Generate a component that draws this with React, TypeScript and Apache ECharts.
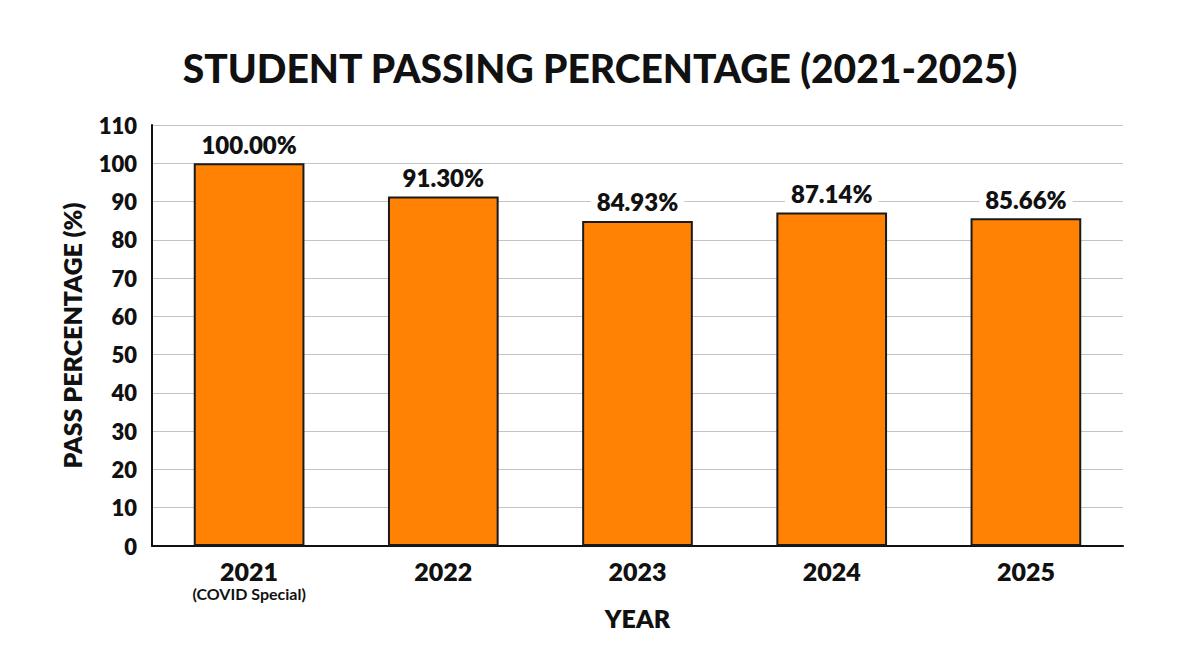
import React, { useEffect, useRef } from "react";
import * as echarts from "echarts";

const years = ["2021", "2022", "2023", "2024", "2025"];
const subLabels = ["(COVID Special)", "", "", "", ""];
const passRates = [100.0, 91.3, 84.93, 87.14, 85.66];
const yTicks = { min: 0, max: 110, interval: 10 };

const FONT = "Lato, 'Noto Sans', sans-serif";

export default function App() {
  const ref = useRef<HTMLDivElement>(null);
  useEffect(() => {
    if (!ref.current) return;
    const chart = echarts.init(ref.current, undefined, { renderer: "svg" });
    chart.setOption({
      animation: false,
      backgroundColor: "#ffffff",
      title: {
        text: "STUDENT PASSING PERCENTAGE (2021-2025)",
        left: "center",
        top: 35,
        textStyle: { fontFamily: FONT, fontWeight: 900, fontSize: 39, color: "#111" },
      },
      grid: { left: 144, right: 69, top: 117, bottom: 101, containLabel: false },
      xAxis: {
        type: "category",
        data: years,
        name: "YEAR",
        nameLocation: "middle",
        nameGap: 57,
        nameTextStyle: { fontFamily: FONT, fontWeight: 800, fontSize: 25, color: "#111" },
        axisLine: { lineStyle: { color: "#111", width: 2 } },
        axisTick: { show: false },
        axisLabel: {
          margin: 11,
          formatter: (v: string, i: number) =>
            subLabels[i] ? `{y|${v}}\n{s|${subLabels[i]}}` : `{y|${v}}\n{s| }`,
          rich: {
            y: { fontFamily: FONT, fontWeight: 800, fontSize: 25, color: "#111", lineHeight: 27 },
            s: { fontFamily: FONT, fontWeight: 700, fontSize: 16, color: "#111", lineHeight: 18 },
          },
        },
      },
      yAxis: {
        type: "value",
        min: yTicks.min,
        max: yTicks.max,
        interval: yTicks.interval,
        name: "PASS PERCENTAGE (%)",
        nameLocation: "middle",
        nameGap: 68,
        nameRotate: 90,
        nameTextStyle: { fontFamily: FONT, fontWeight: 800, fontSize: 25, color: "#111" },
        axisLine: { show: true, lineStyle: { color: "#111", width: 2 } },
        axisTick: { show: false },
        axisLabel: {
          margin: 15,
          fontFamily: FONT,
          fontWeight: 800,
          fontSize: 22,
          color: "#111",
        },
        splitLine: { show: true, lineStyle: { color: "#c4c4c4", width: 1.2 } },
      },
      series: [
        {
          type: "bar",
          data: passRates,
          barWidth: "57%",
          itemStyle: { color: "#FF8205", borderColor: "#1a1a1a", borderWidth: 2 },
          label: {
            show: true,
            position: "top",
            distance: 7,
            formatter: (p: any) => `${p.value.toFixed(2)}%`,
            fontFamily: FONT,
            fontWeight: 800,
            fontSize: 24,
            color: "#111",
            backgroundColor: "#ffffff",
            padding: [0, 6, 0, 6],
          },
        },
      ],
    });
    return () => chart.dispose();
  }, []);
  return <div ref={ref} style={{ width: 1184, height: 639 }} />;
}
